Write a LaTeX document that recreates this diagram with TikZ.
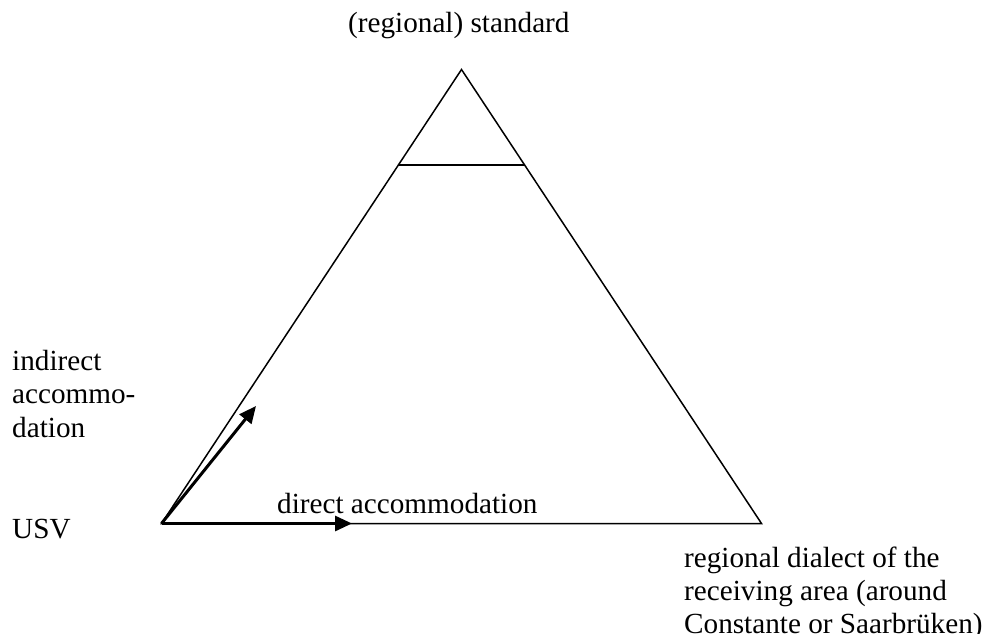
\documentclass[tikz,border=0pt]{standalone}
\usepackage{fontspec}
\setmainfont{Liberation Serif}
\usetikzlibrary{arrows.meta,calc}
\begin{document}
\begin{tikzpicture}[x=1pt,y=-1pt,
  lbl/.style={inner sep=0pt,anchor=base west,font=\fontsize{29.2}{33.6}\selectfont},
  edge/.style={line width=1.5pt,line join=miter},
  level/.style={line width=2pt},
  accarrow/.style={line width=3pt,-{Triangle[length=17pt,width=15pt]}}]
  \useasboundingbox (0,0) rectangle (986,634);
  % corners of the triangle
  \coordinate (top) at (461.5,69.5);
  \coordinate (usv) at (161.5,523.5);
  \coordinate (rd) at (761.5,523.5);
  \draw[edge] (usv) -- (top) -- (rd) -- cycle;
  % level line below the apex
  \coordinate (lvlL) at ($(top)!0.21!(usv)$);
  \coordinate (lvlR) at ($(top)!0.21!(rd)$);
  \draw[level] (lvlL) -- (lvlR);
  % accommodation arrows
  \coordinate (indTip) at (256,406);
  \coordinate (dirTip) at (352,523.5);
  \draw[accarrow] (usv) -- (indTip);
  \draw[accarrow] (usv) -- (dirTip);
  % labels
  \node[lbl] (std) at (348,33) {(regional) standard};
  \node[lbl] (ind) at (12,370) {\begin{tabular}[t]{@{}l@{}}indirect\\accommo-\\dation\end{tabular}};
  \node[lbl] (usvlbl) at (12,538) {USV};
  \node[lbl] (dir) at (277,513) {direct accommodation};
  \node[lbl,font=\fontsize{29.2}{33}\selectfont] (dial) at (684,567) {\begin{tabular}[t]{@{}l@{}}regional dialect of the\\receiving area (around\\Constante or Saarbrüken)\end{tabular}};
\end{tikzpicture}
\end{document}
